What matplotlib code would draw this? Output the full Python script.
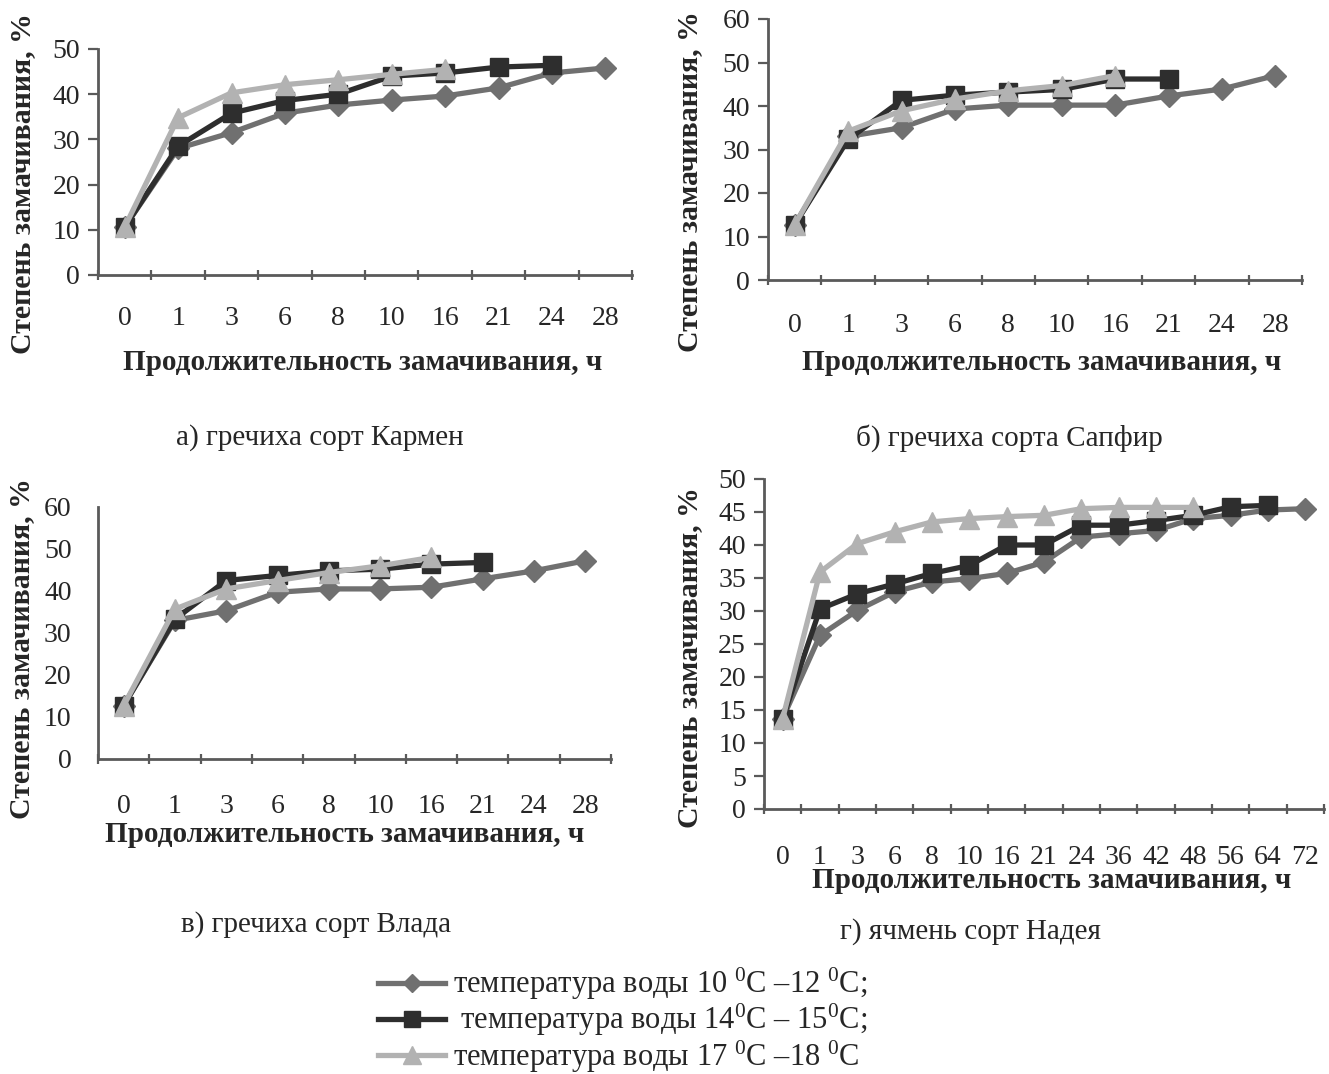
import matplotlib
matplotlib.use("Agg")
import matplotlib.pyplot as plt
import numpy as np
from matplotlib.lines import Line2D
from matplotlib.ticker import FixedLocator

plt.rcParams['font.family'] = ['Liberation Serif', 'DejaVu Serif']
plt.rcParams['mathtext.fontset'] = 'custom'
plt.rcParams['mathtext.rm'] = 'Liberation Serif'
plt.rcParams['mathtext.it'] = 'Liberation Serif:italic'

# ---------------- data ----------------
hours_buck = ["0", "1", "3", "6", "8", "10", "16", "21", "24", "28"]
hours_barley = ["0", "1", "3", "6", "8", "10", "16", "21", "24", "36", "42", "48", "56", "64", "72"]

# а) Кармен
a_t10 = [10.6, 28.0, 31.5, 35.8, 37.6, 38.7, 39.6, 41.4, 44.7, 45.8]
a_t14 = [10.6, 28.5, 35.8, 38.6, 40.0, 44.0, 44.7, 46.0, 46.4]
a_t17 = [10.6, 34.8, 40.3, 42.1, 43.2, 44.4, 45.5]

# б) Сапфир
b_t10 = [12.7, 33.0, 35.0, 39.3, 40.2, 40.2, 40.2, 42.3, 43.9, 47.0]
b_t14 = [12.7, 32.3, 41.3, 42.5, 43.2, 43.8, 46.2, 46.2]
b_t17 = [12.7, 34.2, 38.9, 41.6, 43.5, 44.7, 47.0]

# в) Влада
c_t10 = [12.7, 33.0, 35.3, 39.7, 40.5, 40.5, 40.9, 42.9, 44.8, 47.2]
c_t14 = [12.7, 33.3, 42.5, 43.7, 44.8, 45.2, 46.4, 46.8]
c_t17 = [12.7, 35.7, 40.5, 42.5, 44.4, 46.0, 48.0]

# г) Надея
d_t10 = [13.7, 26.3, 30.1, 32.9, 34.4, 34.9, 35.7, 37.4, 41.2, 41.7, 42.2, 44.0, 44.5, 45.3, 45.5]
d_t14 = [13.7, 30.3, 32.6, 34.1, 35.7, 36.9, 40.0, 40.0, 43.0, 43.0, 43.7, 44.5, 45.8, 46.0]
d_t17 = [13.7, 35.9, 40.2, 42.0, 43.5, 44.0, 44.3, 44.5, 45.5, 45.7, 45.7, 45.7]

legend_labels = ["температура воды 10 $^{0}$C –12 $^{0}$C;",
                 " температура воды 14$^{0}$C – 15$^{0}$C;",
                 "температура воды 17 $^{0}$C –18 $^{0}$C"]

captions = ["а) гречиха сорт Кармен", "б) гречиха сорта Сапфир",
            "в) гречиха сорт Влада", "г) ячмень сорт Надея"]
xlabel = "Продолжительность замачивания, ч"
ylabel = "Степень замачивания, %"

# ---------------- style ----------------
W, H = 1329, 1074
fig = plt.figure(figsize=(W / 100, H / 100), dpi=100)
fig.patch.set_facecolor('white')

C10 = '#707070'
C14 = '#2e2e2e'
C17 = '#b2b2b2'
AX = '#5a5a5a'
TXT = '#262626'

def px(x0, y0, x1, y1):
    return [x0 / W, 1 - y1 / H, (x1 - x0) / W, (y1 - y0) / H]

def draw(rect, cats, s10, s14, s17, ymax, ystep, xpad, ytick_len=7, ypad=6):
    ax = fig.add_axes(rect)
    n = len(cats)
    for vals, col, mk, size in ((s10, C10, 'D', 11), (s14, C14, 's', 13.5), (s17, C17, '^', 14.5)):
        x = np.arange(len(vals))
        ax.plot(x, vals, color=col, lw=3.8, marker=mk, ms=size, mfc=col, mec=col, zorder=3)
    ax.set_xlim(-0.5, n - 0.5)
    ax.set_ylim(0, ymax)
    ax.set_xticks(np.arange(n))
    ax.set_xticklabels(cats, color=TXT)
    ax.xaxis.set_minor_locator(FixedLocator(np.arange(n + 1) - 0.5))
    ax.tick_params(axis='x', which='major', length=0, pad=xpad, labelsize=20)
    ax.tick_params(axis='x', which='minor', length=7, width=1.6, direction='inout', color=AX)
    ax.set_yticks(np.arange(0, ymax + 0.1, ystep))
    ax.tick_params(axis='y', length=ytick_len, width=1.6, direction='out', color=AX,
                   labelsize=20, pad=ypad, labelcolor=TXT)
    for s in ('top', 'right'):
        ax.spines[s].set_visible(False)
    for s in ('left', 'bottom'):
        ax.spines[s].set_color(AX)
        ax.spines[s].set_linewidth(2)
    ax.set_facecolor('none')
    return ax

axa = draw(px(98, 49, 632, 275), hours_buck, a_t10, a_t14, a_t17, 50, 10, xpad=22)
axb = draw(px(768, 19, 1302, 280), hours_buck, b_t10, b_t14, b_t17, 60, 10, xpad=24)
axc = draw(px(98, 507, 611, 759), hours_buck, c_t10, c_t14, c_t17, 60, 10, xpad=25,
           ytick_len=0, ypad=19)
axd = draw(px(764, 479, 1324, 809), hours_barley, d_t10, d_t14, d_t17, 50, 5, xpad=26)

def ftxt(x, y, s, **kw):
    fig.text(x / W, 1 - y / H, s, **kw)

lab = dict(fontsize=21, fontweight='bold', ha='center', va='center', color=TXT)
ftxt(363, 362, xlabel, **lab)
ftxt(1042, 362, xlabel, **lab)
ftxt(345, 834, xlabel, **lab)
ftxt(1052, 881, xlabel, **lab)

ylab = dict(fontsize=21.5, fontweight='bold', ha='center', va='center', rotation=90, color=TXT)
ftxt(23, 184, ylabel, **ylab)
ftxt(690, 182, ylabel, **ylab)
ftxt(22, 649, ylabel, **ylab)
ftxt(690, 658, ylabel, **ylab)

cap = dict(fontsize=21, ha='center', va='center', color=TXT)
ftxt(320, 438, captions[0], **cap)
ftxt(1009, 438, captions[1], **cap)
ftxt(316, 925, captions[2], **cap)
ftxt(970, 932, captions[3], **cap)

handles = [Line2D([], [], color=C10, lw=3.8, marker='D', ms=9, mfc=C10, mec=C10),
           Line2D([], [], color=C14, lw=3.8, marker='s', ms=12, mfc=C14, mec=C14),
           Line2D([], [], color=C17, lw=3.8, marker='^', ms=13, mfc=C17, mec=C17)]
leg = fig.legend(handles, legend_labels, loc='upper left', bbox_to_anchor=(378 / W, 1 - 966 / H),
                 frameon=False, fontsize=22, handlelength=2.2, handletextpad=0.25,
                 labelspacing=0.0, borderaxespad=0, borderpad=0)
for t in leg.get_texts():
    t.set_color(TXT)

fig.savefig('out.png', dpi=100, facecolor='white')
